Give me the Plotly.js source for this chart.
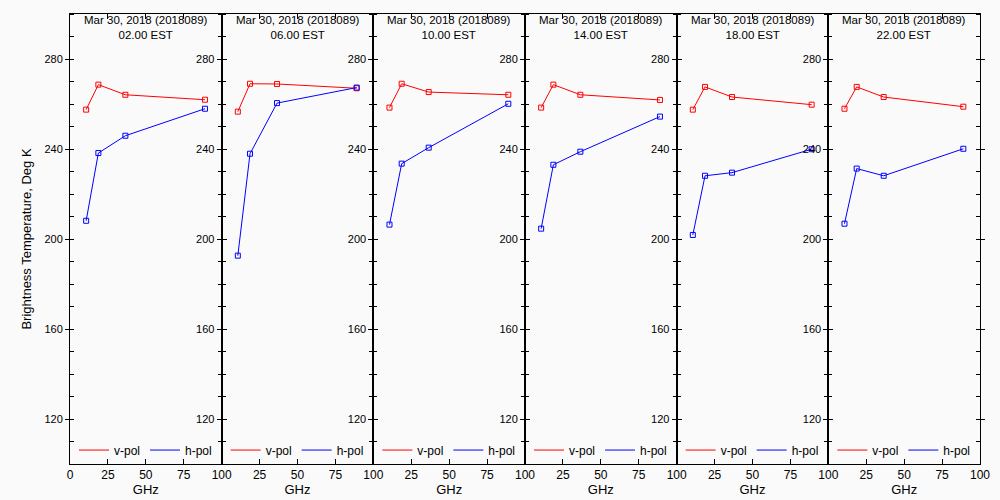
<!DOCTYPE html>
<html>
<head>
<meta charset="utf-8">
<script src="https://cdn.plot.ly/plotly-3.0.1.min.js"></script>
<style>
  html, body { margin: 0; padding: 0; background: #fafafa; }
  #chart { width: 1000px; height: 500px; }
</style>
</head>
<body>
<div id="chart"></div>
<script>
// ---- data ----
const freqs = [10.65, 18.7, 36.5, 89.0];          // GHz
const dateLabel = 'Mar 30, 2018 (2018089)';
const timeLabels = ['02.00 EST', '06.00 EST', '10.00 EST', '14.00 EST', '18.00 EST', '22.00 EST'];

const vpol1 = [257.5, 268.6, 264.1, 261.9];
const hpol1 = [208.1, 238.2, 245.9, 257.9];
const vpol2 = [256.6, 269.0, 268.9, 267.0];
const hpol2 = [192.6, 237.9, 260.4, 267.3];
const vpol3 = [258.4, 269.0, 265.3, 264.1];
const hpol3 = [206.4, 233.5, 240.6, 260.1];
const vpol4 = [258.4, 268.6, 264.1, 261.8];
const hpol4 = [204.6, 233.0, 238.8, 254.4];
const vpol5 = [257.5, 267.6, 263.1, 259.7];
const hpol5 = [201.8, 228.1, 229.5, 239.9];
const vpol6 = [257.9, 267.6, 263.1, 258.8];
const hpol6 = [206.8, 231.3, 228.1, 240.1];

const vpolAll = [vpol1, vpol2, vpol3, vpol4, vpol5, vpol6];
const hpolAll = [hpol1, hpol2, hpol3, hpol4, hpol5, hpol6];

const seriesNames = ['v-pol', 'h-pol'];
const yTickVals = [120, 160, 200, 240, 280];
const xTickValsFirst = [0, 25, 50, 75, 100];
const xTickValsOther = [25, 50, 75, 100];

// ---- styles ----
const FONT = 'Liberation Sans, Arial, sans-serif';
const RED = '#ff0000';
const BLUE = '#0000ff';
const N = 6;

const traces = [];
const layout = {
  width: 1000, height: 500,
  paper_bgcolor: '#fafafa', plot_bgcolor: '#fafafa',
  margin: {l: 70, r: 20, t: 14, b: 36},
  font: {family: FONT, size: 12, color: '#000'},
  showlegend: true,
  annotations: []
};

for (let i = 0; i < N; i++) {
  const xa = i === 0 ? 'x' : 'x' + (i + 1);
  const ya = i === 0 ? 'y' : 'y' + (i + 1);
  const lg = i === 0 ? 'legend' : 'legend' + (i + 1);
  const series = [[vpolAll[i], RED, seriesNames[0]], [hpolAll[i], BLUE, seriesNames[1]]];
  series.forEach(([vals, col, name]) => {
    traces.push({
      x: freqs, y: vals, xaxis: xa, yaxis: ya, type: 'scatter', mode: 'lines',
      name: name, legend: lg, line: {color: col, width: 1}, hoverinfo: 'skip'
    });
  });
  series.forEach(([vals, col, name]) => {
    traces.push({
      x: freqs, y: vals, xaxis: xa, yaxis: ya, type: 'scatter', mode: 'markers',
      name: name, showlegend: false, legend: lg,
      marker: {symbol: 'square-open', size: 5, color: col, line: {width: 1, color: col}},
      hoverinfo: 'skip'
    });
  });

  const d0 = i / N, d1 = (i + 1) / N;
  layout['xaxis' + (i === 0 ? '' : i + 1)] = {
    domain: [d0, d1], range: [0, 100], anchor: ya,
    tickmode: 'array', tickvals: i === 0 ? xTickValsFirst : xTickValsOther,
    ticks: 'inside', ticklen: 5, tickcolor: '#000', tickwidth: 1,
    showline: true, linecolor: '#000', linewidth: 1, mirror: 'ticks',
    showgrid: false, zeroline: false,
    tickfont: {size: 12}, fixedrange: true,
    title: {text: 'GHz', font: {size: 13}, standoff: 2}
  };
  const yax = {
    domain: [0, 1], range: [100, 300], anchor: xa,
    tickmode: 'array', tickvals: yTickVals,
    ticks: 'outside', ticklen: 4, tickcolor: '#000', tickwidth: 1,
    minor: {ticks: 'inside', tickmode: 'linear', tick0: 100, dtick: 10, ticklen: 4, tickcolor: '#000', showgrid: false},
    showline: true, linecolor: '#000', linewidth: 1, mirror: 'ticks',
    showgrid: false, zeroline: false, tickfont: {size: 11}, fixedrange: true
  };
  if (i === 0) {
    yax.title = {text: 'Brightness Temperature, Deg K', font: {size: 13}, standoff: 9};
  }
  layout['yaxis' + (i === 0 ? '' : i + 1)] = yax;

  layout[lg] = {
    orientation: 'h', x: d0 + 4 / 910, xanchor: 'left', y: 0.031, yanchor: 'middle',
    bgcolor: 'rgba(0,0,0,0)', borderwidth: 0, font: {size: 12},
    itemwidth: 30, tracegroupgap: 0, itemclick: false, itemdoubleclick: false
  };

  layout.annotations.push({
    xref: 'paper', yref: 'paper', x: (d0 + d1) / 2, y: 1, yanchor: 'top', xanchor: 'center',
    yshift: 1, borderpad: 0,
    text: dateLabel + '<br>' + timeLabels[i], showarrow: false, font: {size: 11.5}
  });
}

Plotly.newPlot('chart', traces, layout, {displayModeBar: false, staticPlot: true});
</script>
</body>
</html>
